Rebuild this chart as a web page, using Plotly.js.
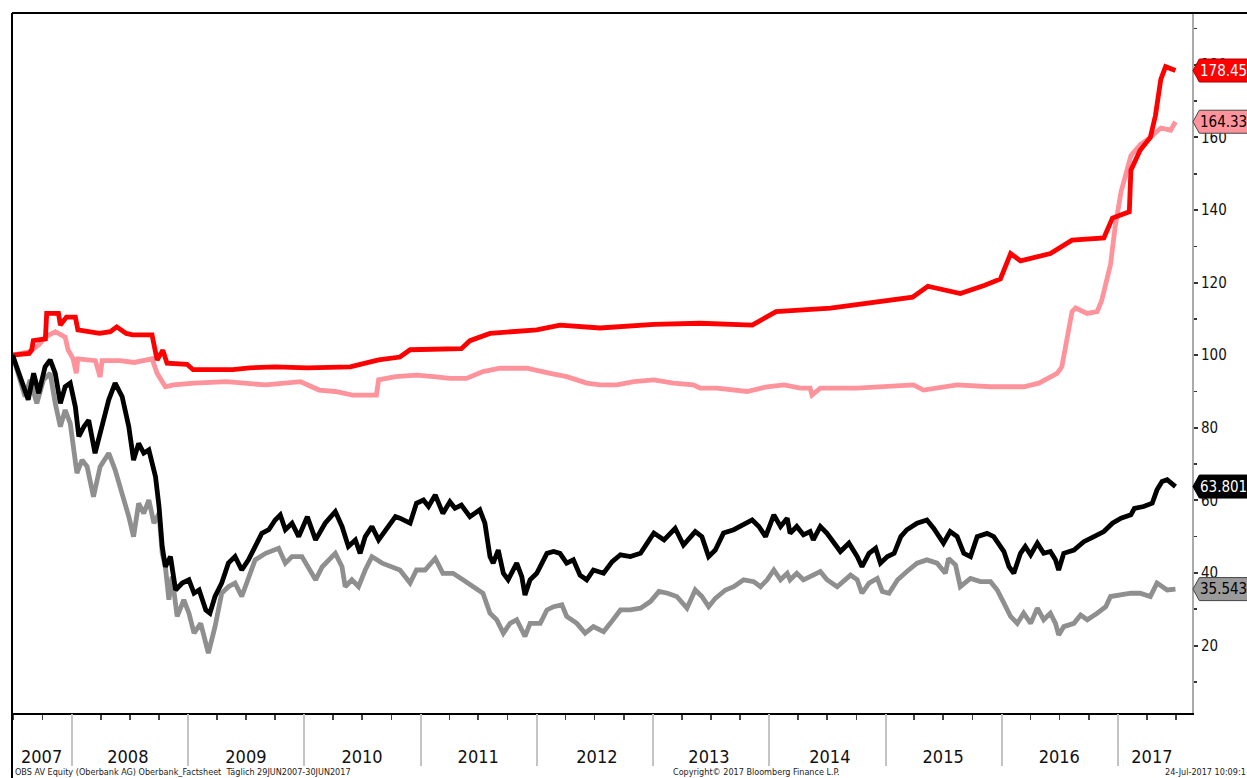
<!DOCTYPE html>
<html><head><meta charset="utf-8">
<script src="https://cdn.plot.ly/plotly-3.0.1.min.js"></script>
<style>html,body{margin:0;padding:0;background:#fff;overflow:hidden}#chart{width:1247px;height:778px}</style>
</head><body><div id="chart"></div>
<script>
// ---- data ----
const redDates = ['2007-06-29','2007-08-20','2007-08-28','2007-09-02','2007-10-10','2007-10-14','2007-11-20','2007-11-26','2007-12-15','2008-01-12','2008-01-20','2008-02-20','2008-03-28','2008-05-01','2008-05-21','2008-06-20','2008-07-10','2008-09-09','2008-09-25','2008-10-13','2008-10-26','2008-12-28','2009-01-16','2009-05-21','2009-07-13','2009-10-01','2010-01-10','2010-05-25','2010-08-22','2010-10-28','2010-11-29','2011-05-09','2011-06-05','2011-08-07','2012-01-01','2012-03-14','2012-07-18','2013-01-03','2013-05-28','2013-11-08','2014-01-22','2014-07-12','2014-12-16','2015-03-27','2015-05-14','2015-08-24','2015-11-09','2015-12-28','2016-01-29','2016-02-29','2016-06-02','2016-08-09','2016-11-17','2016-12-14','2017-02-05','2017-02-10','2017-03-11','2017-04-12','2017-04-28','2017-05-15','2017-05-30','2017-06-15','2017-06-30'];
const redVals = [100,100.5,101.5,104,104.5,111.5,111.5,108.3,110.5,110.5,107,106.5,106,106.5,107.8,106,105.6,105.6,98.7,101.4,97.8,97.5,96,96,96.5,96.8,96.5,96.8,98.7,99.5,101.5,101.8,104,106,107,108.3,107.5,108.5,108.8,108.3,112,113,114.7,116,119,117,119.3,121,128,126,128,131.7,132.3,137.8,139.5,151,156.5,160,166,176,179.5,178.8,178.45];

const pinkDates = ['2007-06-29','2007-08-24','2007-09-21','2007-10-09','2007-11-10','2007-12-11','2007-12-20','2008-01-05','2008-01-15','2008-01-20','2008-03-15','2008-03-30','2008-04-05','2008-06-01','2008-07-15','2008-09-09','2008-09-25','2008-10-21','2008-11-15','2009-01-20','2009-05-01','2009-09-01','2009-12-20','2010-02-16','2010-04-08','2010-06-01','2010-08-15','2010-08-22','2010-10-14','2010-12-19','2011-02-11','2011-04-03','2011-05-25','2011-07-16','2011-09-08','2011-12-01','2012-02-12','2012-04-04','2012-06-06','2012-07-18','2012-09-09','2012-11-01','2013-01-03','2013-03-05','2013-05-07','2013-05-28','2013-07-20','2013-10-23','2013-12-25','2014-02-16','2014-04-08','2014-05-09','2014-05-15','2014-06-10','2014-10-04','2015-01-17','2015-03-30','2015-04-30','2015-08-14','2015-11-27','2016-03-10','2016-04-27','2016-06-02','2016-06-23','2016-07-08','2016-07-24','2016-08-09','2016-08-20','2016-09-25','2016-10-27','2016-11-10','2016-12-08','2016-12-22','2017-01-10','2017-01-25','2017-02-10','2017-03-11','2017-04-12','2017-05-15','2017-06-15','2017-06-30'];
const pinkVals = [100,101,103,105,106.5,105,101.5,99,95,99,98.5,94,98.5,98.5,98,99,95,91.3,91.8,92.3,92.7,91.8,92.7,90.4,90,89,89,93.2,94.1,94.5,94.1,93.6,93.6,95.5,96.4,96.4,95,94.1,92.3,91.8,91.8,92.7,93.2,92.3,91.8,90.9,90.9,90,91.3,91.8,90.9,90.9,89,90.9,90.9,91.5,91.8,90.4,91.8,91.3,91.3,92.3,94.1,95,96.8,105,112,113,111.5,112,115,125,135,145,150,155,158,160,162.6,162,164.337];

const blackDates = ['2007-06-29','2007-07-27','2007-08-17','2007-09-03','2007-09-19','2007-10-09','2007-10-25','2007-11-10','2007-11-26','2007-12-11','2007-12-27','2008-01-12','2008-01-23','2008-02-08','2008-02-23','2008-03-14','2008-04-05','2008-04-26','2008-05-16','2008-06-07','2008-06-28','2008-07-13','2008-07-29','2008-08-14','2008-08-30','2008-09-20','2008-10-01','2008-10-11','2008-10-21','2008-11-06','2008-11-22','2008-12-13','2009-01-03','2009-01-19','2009-02-04','2009-02-25','2009-03-10','2009-03-26','2009-04-16','2009-05-07','2009-05-28','2009-06-18','2009-07-09','2009-07-30','2009-08-20','2009-09-11','2009-10-01','2009-10-17','2009-11-02','2009-11-23','2009-12-14','2010-01-10','2010-02-05','2010-03-07','2010-04-08','2010-04-29','2010-05-19','2010-06-10','2010-06-25','2010-07-11','2010-08-01','2010-08-22','2010-09-13','2010-10-14','2010-10-28','2010-11-29','2010-12-19','2011-01-10','2011-01-26','2011-02-16','2011-03-12','2011-04-03','2011-04-19','2011-05-09','2011-06-05','2011-07-06','2011-07-22','2011-08-07','2011-08-17','2011-09-02','2011-09-18','2011-10-03','2011-10-30','2011-11-15','2011-11-25','2011-12-11','2012-01-01','2012-02-02','2012-02-23','2012-03-14','2012-04-04','2012-04-25','2012-05-16','2012-06-06','2012-06-27','2012-07-29','2012-08-25','2012-09-20','2012-10-21','2012-11-22','2012-12-13','2013-01-03','2013-02-04','2013-03-11','2013-04-06','2013-05-13','2013-06-03','2013-06-24','2013-07-15','2013-08-10','2013-09-11','2013-10-02','2013-11-08','2013-11-29','2013-12-20','2014-01-15','2014-02-05','2014-02-26','2014-03-07','2014-03-28','2014-04-18','2014-05-09','2014-05-19','2014-06-10','2014-07-01','2014-08-12','2014-09-08','2014-10-04','2014-10-19','2014-11-10','2014-12-01','2014-12-16','2015-01-07','2015-01-28','2015-02-18','2015-03-09','2015-04-10','2015-05-11','2015-06-01','2015-07-02','2015-07-23','2015-08-14','2015-09-04','2015-09-25','2015-10-16','2015-11-16','2015-12-07','2016-01-08','2016-01-24','2016-02-08','2016-02-29','2016-03-15','2016-04-01','2016-04-22','2016-05-12','2016-06-02','2016-06-18','2016-06-28','2016-07-14','2016-08-15','2016-09-15','2016-10-17','2016-11-17','2016-12-14','2017-01-10','2017-02-10','2017-02-21','2017-03-22','2017-04-18','2017-05-03','2017-05-19','2017-06-04','2017-06-20','2017-06-30'];
const blackVals = [100,93.2,87.7,95,89.5,96.8,98.7,95,86.7,91.3,92.3,85.8,77.6,80.3,82.1,73,80.3,87.7,92.3,88.6,80.3,71.1,75.7,73,73.9,66.5,58.3,47.3,41.7,44.5,35.3,37.2,38.1,34.4,35.3,29.8,28.9,33.5,37.2,42.7,44.5,40.8,43.6,47.3,50.9,51.9,54.6,56,51.9,53.7,50,55.5,49.1,53.7,56.9,52.8,47.3,49.1,45.4,50,52.8,49.1,51.9,55.5,55.1,53.7,59.2,60.1,58.3,61.5,56.4,59.6,57.8,58.7,55.5,57.4,53.7,44.5,42.7,46.3,39.9,38.1,42.7,39,33.9,38.1,39.9,45.4,45.9,45.4,42.7,43.6,39.4,38.1,40.8,39.9,43.1,45,44.5,45.4,48.2,51,49.1,52.3,47.7,51.4,50,44.5,46.3,51,51.9,52.8,54.6,52.8,50,56,52.8,55.1,50.9,52.8,50.5,51.4,49.1,52.8,50.9,45.9,48.2,44.5,41.7,45.4,46.8,42.7,44.5,45.4,50,51.9,53.7,54.6,52.3,48.2,51.4,50,45.4,44.5,50,50.9,50,45.9,41.7,39.9,45.4,47.3,45,48.2,45.4,45.9,43.6,40.8,45.4,46.3,48.6,50,51.4,53.7,55.1,56,57.8,58.3,59.2,62.9,65.2,65.7,64.3,63.801];

const grayDates = ['2007-06-29','2007-07-22','2007-08-07','2007-08-23','2007-09-13','2007-10-04','2007-10-25','2007-11-10','2007-11-26','2007-12-11','2007-12-27','2008-01-17','2008-02-02','2008-02-18','2008-03-09','2008-03-30','2008-04-26','2008-05-16','2008-06-07','2008-06-28','2008-07-13','2008-07-29','2008-08-14','2008-08-30','2008-09-15','2008-10-01','2008-10-11','2008-10-21','2008-11-01','2008-11-11','2008-11-27','2008-12-18','2009-01-03','2009-01-19','2009-02-09','2009-03-05','2009-03-26','2009-04-16','2009-05-07','2009-05-28','2009-06-18','2009-07-09','2009-07-30','2009-09-01','2009-10-12','2009-11-02','2009-11-23','2009-12-24','2010-02-05','2010-02-26','2010-04-08','2010-04-29','2010-05-09','2010-05-30','2010-06-20','2010-07-11','2010-08-01','2010-09-02','2010-10-03','2010-10-28','2010-11-29','2010-12-19','2011-01-15','2011-02-16','2011-03-12','2011-04-13','2011-05-14','2011-06-15','2011-07-16','2011-08-07','2011-08-28','2011-09-18','2011-10-09','2011-10-30','2011-11-25','2011-12-11','2012-01-12','2012-02-02','2012-02-23','2012-03-20','2012-04-04','2012-05-06','2012-06-01','2012-06-27','2012-07-29','2012-08-19','2012-09-20','2012-10-21','2012-11-22','2012-12-23','2013-01-19','2013-02-15','2013-03-16','2013-04-17','2013-05-13','2013-06-03','2013-06-24','2013-07-15','2013-08-16','2013-09-11','2013-10-12','2013-11-13','2013-12-04','2013-12-25','2014-01-15','2014-02-05','2014-02-26','2014-03-07','2014-03-28','2014-04-18','2014-05-09','2014-06-10','2014-07-01','2014-08-02','2014-09-13','2014-10-04','2014-10-19','2014-11-10','2014-12-06','2014-12-22','2015-01-12','2015-02-08','2015-03-09','2015-04-10','2015-05-11','2015-06-12','2015-07-08','2015-07-18','2015-08-09','2015-08-24','2015-09-25','2015-10-26','2015-11-27','2015-12-18','2016-01-08','2016-01-29','2016-02-19','2016-03-10','2016-04-01','2016-04-22','2016-05-12','2016-06-02','2016-06-18','2016-06-28','2016-07-14','2016-08-15','2016-09-05','2016-09-26','2016-10-27','2016-11-23','2016-12-08','2017-01-10','2017-02-10','2017-03-11','2017-04-12','2017-05-03','2017-06-04','2017-06-30'];
const grayVals = [100,93.2,88.6,93.2,86.7,93.2,95,86.7,80.3,84.9,81.2,67.5,71.1,69.3,61,69.3,73,68.4,62,55.5,50,59.2,56.4,60.1,53.7,56.4,45.4,41.7,32.6,39,28,32.6,28.9,23.4,26.1,17.9,25.2,34.4,36.2,37.2,33.5,39,43.6,45.4,46.8,42.7,44.5,44.5,38.1,41.7,45.4,41.7,36.2,38.1,36.2,40.8,44.5,42.7,41.7,40.8,37.2,40.8,40.8,44,39.9,39.9,38.1,36.2,34.4,28.9,27.1,23.4,26.1,27.1,22.5,26.1,26.1,29.8,30.7,31.2,28,26.1,23.4,25.2,23.8,26.1,29.8,29.8,30.3,32.1,34.9,34.4,33.5,30.3,35.3,33.5,30.7,33,35.3,36.2,38.1,37.6,36.2,38.1,40.8,38.1,39.9,38.1,39.9,38.1,39,40.4,38.1,36.2,39.4,38.1,34.4,37.2,38.5,34.9,34.4,38.1,40.4,42.7,43.6,42.7,39.9,44,42.2,36.2,38.5,37.6,37.6,35.3,31.7,28,26.1,28.9,26.1,30.3,27.1,28.9,26.1,22.9,25.2,26.1,28.4,27.1,28.9,30.7,33.5,33.9,34.4,34.4,33.5,37.2,35.3,35.543];

const yearStarts = ['2008-01-01','2009-01-01','2010-01-01','2011-01-01','2012-01-01','2013-01-01','2014-01-01','2015-01-01','2016-01-01','2017-01-01'];
const yearLabelDates = ['2007-09-28','2008-06-25','2009-07-01','2010-07-01','2011-07-01','2012-07-08','2013-06-25','2014-07-10','2015-07-01','2016-06-30','2017-04-17'];
const yearLabels = ['2007','2008','2009','2010','2011','2012','2013','2014','2015','2016','2017'];
const yTickVals = [20,40,60,80,100,120,140,160,180];
const yTickText = ['20','40','60','80','100','120','140','160','180'];

const footLeft = 'OBS AV Equity (Oberbank AG) Oberbank_Factsheet  Täglich 29JUN2007-30JUN2017';
const footMid = 'Copyright© 2017 Bloomberg Finance L.P.';
const footRight = '24-Jul-2017 10:09:1';

// ---- chart ----
const FONT = '"Liberation Sans Narrow", "DejaVu Sans Condensed", "Arial Narrow", sans-serif';
const X_RANGE = ['2007-06-27', '2017-08-21'];
const Y_RANGE = [1.4, 194.3];

const series = [
  {x: grayDates, y: grayVals, color: '#8f8f8f', fill: '#9a9a9a', border: '#444', text: '#000'},
  {x: pinkDates, y: pinkVals, color: '#ff939c', fill: '#ff939c', border: '#444', text: '#000'},
  {x: redDates, y: redVals, color: '#ff0000', fill: '#ff0000', border: '#b00000', text: '#fff'},
  {x: blackDates, y: blackVals, color: '#000000', fill: '#000000', border: '#000', text: '#fff'}
];

const traces = series.map(s => ({
  type: 'scatter', mode: 'lines', x: s.x, y: s.y,
  line: {color: s.color, width: 4.8}, hoverinfo: 'skip', showlegend: false
}));
// helper traces so the overlay axes exist
traces.push({type: 'scatter', mode: 'markers', x: yearStarts, y: yearStarts.map(() => null), xaxis: 'x2', yaxis: 'y', showlegend: false, hoverinfo: 'skip'});
traces.push({type: 'scatter', mode: 'markers', x: yearLabelDates, y: yearLabelDates.map(() => null), xaxis: 'x3', yaxis: 'y', showlegend: false, hoverinfo: 'skip'});

const pxPerUnit = 700 / (Y_RANGE[1] - Y_RANGE[0]);
const halfH = 11.5 / pxPerUnit;
const shapes = [
  // outer frame lines
  {type: 'line', xref: 'paper', yref: 'paper', x0: 0, x1: 1.06, y0: 1, y1: 1, line: {color: '#000', width: 2}},
  {type: 'line', xref: 'paper', yref: 'paper', x0: 0, x1: 0, y0: 1, y1: -0.11, line: {color: '#000', width: 2}}
];
const annotations = [];
series.forEach(s => {
  const v = s.y[s.y.length - 1];
  const x0 = 1.0008, x1 = 1.0062, x2 = 1.07;
  shapes.push({type: 'path', xref: 'paper', yref: 'y', layer: 'above',
    path: `M ${x0},${v} L ${x1},${v + halfH} L ${x2},${v + halfH} L ${x2},${v - halfH} L ${x1},${v - halfH} Z`,
    fillcolor: s.fill, line: {color: s.border, width: 1}});
  annotations.push({xref: 'paper', yref: 'y', x: x1, y: v, xanchor: 'left', yanchor: 'middle', xshift: -1,
    text: String(v), showarrow: false, font: {family: FONT, size: 15, color: s.text}});
});
[[footLeft, 1], [footMid, 659], [footRight, 1151]].forEach(([t, sh]) => {
  annotations.push({xref: 'paper', yref: 'paper', x: 0, y: 0, xanchor: 'left', yanchor: 'middle',
    xshift: sh, yshift: -59, text: t, showarrow: false, font: {family: FONT, size: 9, color: '#222'}});
});

const layout = {
  width: 1247, height: 778,
  margin: {l: 12, r: 55, t: 13, b: 65, pad: 0},
  paper_bgcolor: '#fff', plot_bgcolor: '#fff',
  showlegend: false,
  font: {family: FONT, color: '#000'},
  xaxis: {type: 'date', range: X_RANGE, showgrid: false, zeroline: false,
    showline: true, linecolor: '#000', linewidth: 2,
    tickmode: 'linear', tick0: '2007-01-01', dtick: 'M3', ticks: 'outside', ticklen: 5, tickwidth: 1.5, tickcolor: '#444',
    showticklabels: false, fixedrange: true},
  xaxis2: {type: 'date', overlaying: 'x', anchor: 'y', side: 'bottom', range: X_RANGE, showgrid: false, zeroline: false,
    showline: false, tickmode: 'array', tickvals: yearStarts, ticks: 'outside', ticklen: 52, tickwidth: 2, tickcolor: '#c4c4c4',
    showticklabels: false},
  xaxis3: {type: 'date', overlaying: 'x', anchor: 'y', side: 'bottom', range: X_RANGE, showgrid: false, zeroline: false,
    showline: false, tickmode: 'array', tickvals: yearLabelDates, ticktext: yearLabels, ticks: 'outside', ticklen: 27,
    tickcolor: 'rgba(0,0,0,0)', tickfont: {family: FONT, size: 18, color: '#111'}},
  yaxis: {side: 'right', range: Y_RANGE, showgrid: false, zeroline: false,
    showline: true, linecolor: '#aaaaaa', linewidth: 2,
    tickmode: 'array', tickvals: yTickVals, ticktext: yTickText, ticks: 'outside', ticklen: 4, tickwidth: 2, tickcolor: '#333',
    minor: {tickmode: 'linear', tick0: 0, dtick: 10, ticks: 'outside', ticklen: 3, tickwidth: 1.5, tickcolor: '#333'},
    tickfont: {family: FONT, size: 15, color: '#111'}, automargin: false, fixedrange: true},
  shapes: shapes,
  annotations: annotations
};

Plotly.newPlot('chart', traces, layout, {displayModeBar: false, staticPlot: true});
</script>
</body></html>
